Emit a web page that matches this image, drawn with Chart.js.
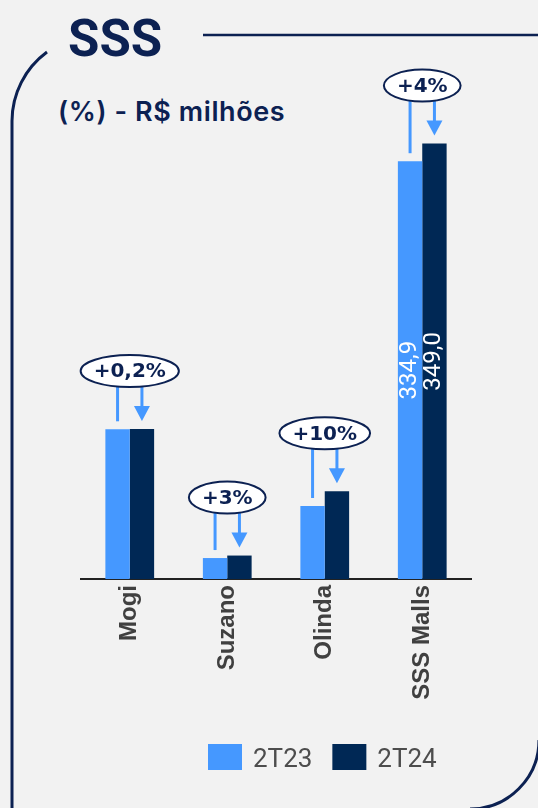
<!DOCTYPE html>
<html>
<head>
<meta charset="utf-8">
<script src="https://cdn.jsdelivr.net/npm/chart.js@4/dist/chart.umd.min.js"></script>
<style>
  html, body { margin: 0; padding: 0; background: #f2f2f2; }
  #wrap { position: relative; width: 538px; height: 808px; overflow: hidden; background: #f2f2f2; }
  #frame { position: absolute; left: 0; top: 0; }
  #c { position: absolute; left: 0; top: 0; }
</style>
</head>
<body>
<div id="wrap">
  <svg id="frame" width="538" height="808" xmlns="http://www.w3.org/2000/svg">
    <path d="M 203 35 H 540" stroke="#0c2152" stroke-width="2.5" fill="none"/>
    <path d="M 47 52 A 86 86 0 0 0 12 121 V 812" stroke="#0c2152" stroke-width="3" fill="none"/>
    <path d="M 539 740 A 69 69 0 0 1 470 809" stroke="#0c2152" stroke-width="3" fill="none"/>
    <text x="68" y="56" font-family="Roboto" font-weight="700" font-size="51" fill="#0c2152">SSS</text>
    <text x="58" y="121" font-family="Inter" font-weight="600" font-size="27" letter-spacing="0.6" fill="#0c2152">(%) - R$ milhões</text>
  </svg>
  <canvas id="c" width="538" height="808"></canvas>
</div>
<script>
const categories = ["Mogi", "Suzano", "Olinda", "SSS Malls"];
const seriesNames = ["2T23", "2T24"];
const values2T23 = [120.0, 16.8, 58.5, 334.9];
const values2T24 = [120.2, 18.8, 70.3, 349.0];
const changeLabels = ["+0,2%", "+3%", "+10%", "+4%"];
const showValueLabels = [false, false, false, true];

const COLOR_A = "#4598ff";
const COLOR_B = "#002855";
const NAVY = "#0c2152";

function fmt(v) { return v.toFixed(1).replace(".", ","); }

const annotPlugin = {
  id: "annot",
  afterDatasetsDraw(chart) {
    const ctx = chart.ctx;
    const m0 = chart.getDatasetMeta(0), m1 = chart.getDatasetMeta(1);
    ctx.save();
    [m0, m1].forEach((meta, di) => {
      const vals = di === 0 ? values2T23 : values2T24;
      meta.data.forEach((bar, i) => {
        if (!showValueLabels[i]) return;
        const cy = (bar.y + bar.base) / 2;
        ctx.save();
        ctx.translate(bar.x, cy);
        ctx.rotate(-Math.PI / 2);
        ctx.fillStyle = "#ffffff";
        ctx.font = '24px Roboto';
        ctx.textAlign = "center";
        ctx.textBaseline = "middle";
        ctx.fillText(fmt(vals[i]), 0, 0);
        ctx.restore();
      });
    });
    categories.forEach((c, i) => {
      const b0 = m0.data[i], b1 = m1.data[i];
      const top = Math.min(b0.y, b1.y);
      const cx = (b0.x + b1.x) / 2;
      const cy = top - 58;
      ctx.font = 'bold 20px "DejaVu Sans"';
      const w = ctx.measureText(changeLabels[i]).width;
      const rx = w / 2 + 13, ry = 16;
      const edgeY = (x) => { const d = (x - cx) / rx; return cy + ry * Math.sqrt(Math.max(0, 1 - d * d)); };
      ctx.strokeStyle = COLOR_A;
      ctx.fillStyle = COLOR_A;
      ctx.lineWidth = 3;
      ctx.beginPath();
      ctx.moveTo(b0.x, edgeY(b0.x));
      ctx.lineTo(b0.x, b0.y - 8);
      ctx.stroke();
      const tip = b1.y - 8;
      ctx.beginPath();
      ctx.moveTo(b1.x, edgeY(b1.x));
      ctx.lineTo(b1.x, tip - 13);
      ctx.stroke();
      ctx.beginPath();
      ctx.moveTo(b1.x - 8, tip - 15);
      ctx.lineTo(b1.x + 8, tip - 15);
      ctx.lineTo(b1.x, tip);
      ctx.closePath();
      ctx.fill();
      ctx.beginPath();
      ctx.ellipse(cx, cy, rx, ry, 0, 0, Math.PI * 2);
      ctx.fillStyle = "#ffffff";
      ctx.fill();
      ctx.strokeStyle = NAVY;
      ctx.lineWidth = 2;
      ctx.stroke();
      ctx.fillStyle = NAVY;
      ctx.textAlign = "center";
      ctx.textBaseline = "middle";
      ctx.fillText(changeLabels[i], cx, cy + 1);
    });
    ctx.restore();
  },
  afterDraw(chart) {
    const ctx = chart.ctx;
    ctx.save();
    ctx.font = '26px Roboto';
    ctx.textBaseline = "alphabetic";
    ctx.textAlign = "left";
    let x = 208;
    chart.data.datasets.forEach((ds) => {
      ctx.fillStyle = ds.backgroundColor;
      ctx.fillRect(x, 744, 34, 26);
      x += 34 + 11;
      ctx.fillStyle = "#4d4d4d";
      ctx.fillText(ds.label, x, 767);
      x += ctx.measureText(ds.label).width + 20;
    });
    ctx.restore();
  }
};

new Chart(document.getElementById("c"), {
  type: "bar",
  data: {
    labels: categories,
    datasets: [
      { label: seriesNames[0], data: values2T23, backgroundColor: COLOR_A },
      { label: seriesNames[1], data: values2T24, backgroundColor: COLOR_B }
    ]
  },
  options: {
    responsive: false,
    animation: false,
    devicePixelRatio: 1,
    layout: { padding: { left: 81, right: 67, top: 80, bottom: 0 } },
    datasets: { bar: { categoryPercentage: 0.5, barPercentage: 1.0 } },
    plugins: { legend: { display: false }, tooltip: { enabled: false }, title: { display: false } },
    scales: {
      y: { display: false, min: 0, max: 400 },
      x: {
        afterFit(scale) { scale.height = 229; },
        grid: { display: false, drawTicks: false },
        border: { display: true, color: "#222222", width: 2 },
        ticks: {
          minRotation: 90, maxRotation: 90, padding: 6,
          color: "#404040",
          font: { family: '"Liberation Sans", Arial', weight: "bold", size: 24 }
        }
      }
    }
  },
  plugins: [annotPlugin]
});
</script>
</body>
</html>
